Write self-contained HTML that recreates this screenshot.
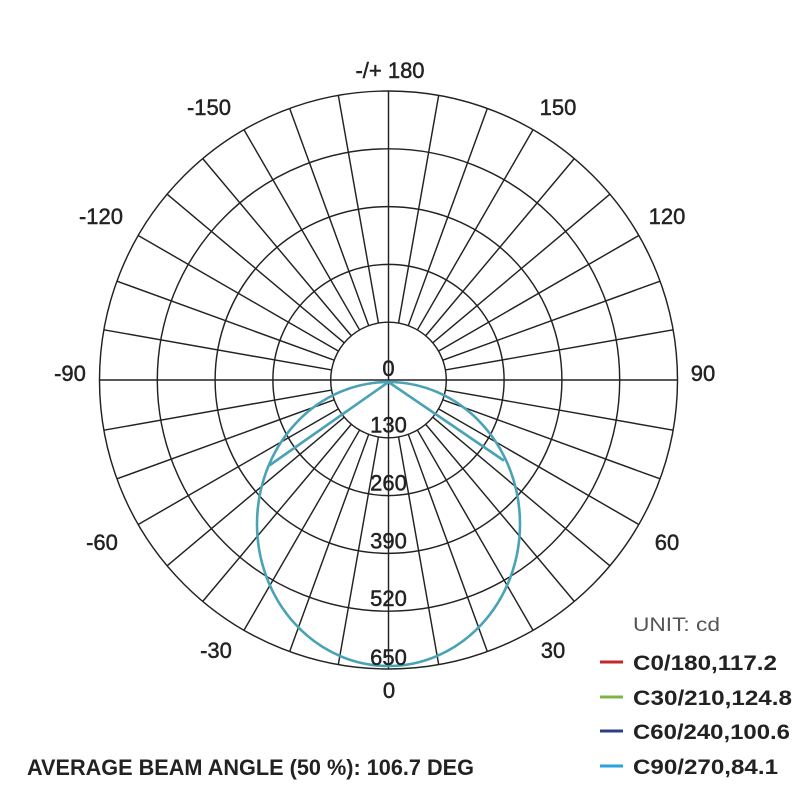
<!DOCTYPE html>
<html>
<head>
<meta charset="utf-8">
<style>
  html, body { margin:0; padding:0; background:#fff; }
  svg { display:block; }
  text { font-family: "Liberation Sans", "DejaVu Sans", sans-serif; fill:#222; }
</style>
</head>
<body>
<svg width="800" height="800" viewBox="0 0 800 800" xmlns="http://www.w3.org/2000/svg">
  <rect width="800" height="800" fill="#fff"/>
  <!-- grid -->
  <g transform="translate(388.5,380)" stroke="#222" stroke-width="1.45" fill="none">
    <circle r="57.8"/>
    <circle r="115.6"/>
    <circle r="173.4"/>
    <circle r="231.2"/>
    <circle r="289"/>
    <line x1="0" y1="-289" x2="0" y2="289"/>
    <line x1="-289" y1="0" x2="289" y2="0"/>
    <g>
      <line x1="0" y1="57.8" x2="0" y2="289" transform="rotate(10)"/>
      <line x1="0" y1="57.8" x2="0" y2="289" transform="rotate(20)"/>
      <line x1="0" y1="57.8" x2="0" y2="289" transform="rotate(30)"/>
      <line x1="0" y1="57.8" x2="0" y2="289" transform="rotate(40)"/>
      <line x1="0" y1="57.8" x2="0" y2="289" transform="rotate(50)"/>
      <line x1="0" y1="57.8" x2="0" y2="289" transform="rotate(60)"/>
      <line x1="0" y1="57.8" x2="0" y2="289" transform="rotate(70)"/>
      <line x1="0" y1="57.8" x2="0" y2="289" transform="rotate(80)"/>
    </g>
    <g transform="rotate(90)">
      <line x1="0" y1="57.8" x2="0" y2="289" transform="rotate(10)"/>
      <line x1="0" y1="57.8" x2="0" y2="289" transform="rotate(20)"/>
      <line x1="0" y1="57.8" x2="0" y2="289" transform="rotate(30)"/>
      <line x1="0" y1="57.8" x2="0" y2="289" transform="rotate(40)"/>
      <line x1="0" y1="57.8" x2="0" y2="289" transform="rotate(50)"/>
      <line x1="0" y1="57.8" x2="0" y2="289" transform="rotate(60)"/>
      <line x1="0" y1="57.8" x2="0" y2="289" transform="rotate(70)"/>
      <line x1="0" y1="57.8" x2="0" y2="289" transform="rotate(80)"/>
    </g>
    <g transform="rotate(180)">
      <line x1="0" y1="57.8" x2="0" y2="289" transform="rotate(10)"/>
      <line x1="0" y1="57.8" x2="0" y2="289" transform="rotate(20)"/>
      <line x1="0" y1="57.8" x2="0" y2="289" transform="rotate(30)"/>
      <line x1="0" y1="57.8" x2="0" y2="289" transform="rotate(40)"/>
      <line x1="0" y1="57.8" x2="0" y2="289" transform="rotate(50)"/>
      <line x1="0" y1="57.8" x2="0" y2="289" transform="rotate(60)"/>
      <line x1="0" y1="57.8" x2="0" y2="289" transform="rotate(70)"/>
      <line x1="0" y1="57.8" x2="0" y2="289" transform="rotate(80)"/>
    </g>
    <g transform="rotate(270)">
      <line x1="0" y1="57.8" x2="0" y2="289" transform="rotate(10)"/>
      <line x1="0" y1="57.8" x2="0" y2="289" transform="rotate(20)"/>
      <line x1="0" y1="57.8" x2="0" y2="289" transform="rotate(30)"/>
      <line x1="0" y1="57.8" x2="0" y2="289" transform="rotate(40)"/>
      <line x1="0" y1="57.8" x2="0" y2="289" transform="rotate(50)"/>
      <line x1="0" y1="57.8" x2="0" y2="289" transform="rotate(60)"/>
      <line x1="0" y1="57.8" x2="0" y2="289" transform="rotate(70)"/>
      <line x1="0" y1="57.8" x2="0" y2="289" transform="rotate(80)"/>
    </g>
  </g>

  <!-- curves -->
  <g fill="none" stroke="#4aa2b5" stroke-width="2.6" stroke-linejoin="round" stroke-linecap="round">
    <ellipse cx="388.5" cy="524" rx="131.5" ry="142"/>
    <line x1="388.5" y1="382" x2="270" y2="465"/>
    <line x1="388.5" y1="382" x2="503" y2="460"/>
  </g>

  <!-- ring labels -->
  <g font-size="22" text-anchor="middle" stroke="#222" stroke-width="0.45">
    <text x="388.5" y="376">0</text>
    <text x="388.5" y="432.5">130</text>
    <text x="388.5" y="490.5">260</text>
    <text x="388.5" y="548.5">390</text>
    <text x="388.5" y="606">520</text>
    <text x="388.5" y="665">650</text>
  </g>

  <!-- angle labels -->
  <g font-size="22" text-anchor="middle" stroke="#222" stroke-width="0.45">
    <text x="390" y="78">-/+ 180</text>
    <text x="558" y="115">150</text>
    <text x="209" y="115">-150</text>
    <text x="667" y="224">120</text>
    <text x="101" y="224">-120</text>
    <text x="703" y="381">90</text>
    <text x="70" y="381">-90</text>
    <text x="667" y="550">60</text>
    <text x="102" y="550">-60</text>
    <text x="553" y="658">30</text>
    <text x="216" y="658">-30</text>
    <text x="389" y="698">0</text>
  </g>

  <!-- legend -->
  <text x="633" y="631" font-size="19" style="fill:#555" textLength="87" lengthAdjust="spacingAndGlyphs">UNIT: cd</text>
  <g stroke-width="3">
    <line x1="600" y1="662" x2="623" y2="662" stroke="#c4262e"/>
    <line x1="600" y1="697" x2="623" y2="697" stroke="#7db544"/>
    <line x1="600" y1="731" x2="623" y2="731" stroke="#2c3e86"/>
    <line x1="600" y1="766" x2="623" y2="766" stroke="#2aa2dc"/>
  </g>
  <g font-size="21" font-weight="bold">
    <text x="633" y="670" textLength="144" lengthAdjust="spacingAndGlyphs">C0/180,117.2</text>
    <text x="633" y="705" textLength="159" lengthAdjust="spacingAndGlyphs">C30/210,124.8</text>
    <text x="633" y="739" textLength="157" lengthAdjust="spacingAndGlyphs">C60/240,100.6</text>
    <text x="633" y="774" textLength="145" lengthAdjust="spacingAndGlyphs">C90/270,84.1</text>
  </g>

  <!-- bottom caption -->
  <text x="27" y="775" font-size="22" font-weight="bold" textLength="447" lengthAdjust="spacingAndGlyphs">AVERAGE BEAM ANGLE (50 %): 106.7 DEG</text>
</svg>
</body>
</html>
